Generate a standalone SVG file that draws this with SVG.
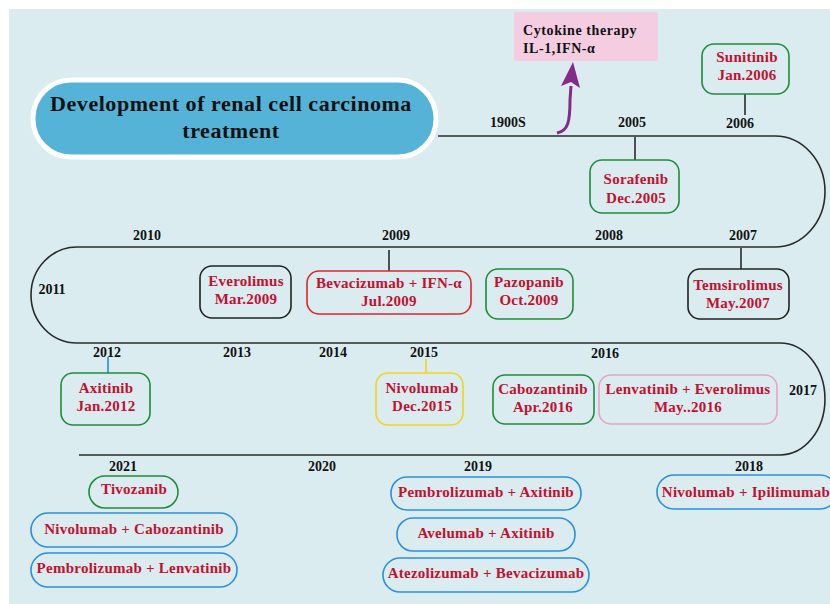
<svg xmlns="http://www.w3.org/2000/svg" width="830" height="604" viewBox="0 0 830 604">
<style>
.bg{fill:#daecf0}
.yr{font-family:"Liberation Serif",serif;font-weight:bold;font-size:14px;fill:#111;text-anchor:middle}
.t{font-family:"Liberation Serif",serif;font-weight:bold;font-size:15px;letter-spacing:0.25px;fill:#c3102e;text-anchor:middle}
.box{fill:none;stroke-width:1.6}
.g{stroke:#1f8b3b}.k{stroke:#222}.r{stroke:#e0242a}.y{stroke:#f2d31b}.p{stroke:#e8a3c3}.b{stroke:#2a8fdc}
.tl{fill:none;stroke:#2a2a2a;stroke-width:1.6}
.cy{font-family:"Liberation Serif",serif;font-weight:bold;font-size:14px;letter-spacing:0.6px;fill:#111}
.ti{font-family:"Liberation Serif",serif;font-weight:bold;font-size:22px;letter-spacing:0.55px;fill:#111;text-anchor:middle}
</style>
<rect x="0" y="0" width="830" height="604" fill="#ffffff"/>
<rect class="bg" x="9" y="9" width="821" height="595"/>
<g id="connectors">
<path class="tl" d="M438,136 H775 A50,55.5 0 0 1 775,247 H77 A46,48 0 0 0 77,343 H780 A45,56 0 0 1 780,455 H79"/>
<line x1="745" y1="94" x2="745" y2="115" class="tl"/>
<line x1="635" y1="137" x2="635" y2="160" class="tl"/>
<line x1="389" y1="250" x2="389" y2="271" class="tl"/>
<line x1="741" y1="248" x2="741" y2="269" class="tl"/>
<line x1="108" y1="357" x2="108" y2="373" stroke="#2a8fdc" stroke-width="1.6"/>
<line x1="426" y1="359" x2="426" y2="373" stroke="#f2d31b" stroke-width="1.6"/>
<path d="M557,133 C568,131 570,122 570,100 L571,86" fill="none" stroke="#862a88" stroke-width="3"/>
<polygon points="573,62 561,86 571,82 580,88" fill="#862a88"/>
</g>
<g id="title">
<rect x="33" y="80" width="403" height="77" rx="38" fill="#55b3d8" stroke="#ffffff" stroke-width="5"/>
<text class="ti" x="231" y="111">Development of renal cell carcinoma</text>
<text class="ti" x="231" y="138">treatment</text>
</g>
<g id="years">
<text class="yr" x="508" y="127">1900S</text>
<text class="yr" x="632" y="127">2005</text>
<text class="yr" x="740" y="128">2006</text>
<text class="yr" x="147" y="240">2010</text>
<text class="yr" x="396" y="240">2009</text>
<text class="yr" x="609" y="240">2008</text>
<text class="yr" x="743" y="240">2007</text>
<text class="yr" x="52" y="294">2011</text>
<text class="yr" x="107" y="357">2012</text>
<text class="yr" x="237" y="357">2013</text>
<text class="yr" x="333" y="357">2014</text>
<text class="yr" x="424" y="357">2015</text>
<text class="yr" x="605" y="358">2016</text>
<text class="yr" x="803" y="395">2017</text>
<text class="yr" x="123" y="471">2021</text>
<text class="yr" x="322" y="471">2020</text>
<text class="yr" x="478" y="471">2019</text>
<text class="yr" x="749" y="471">2018</text>
</g>
<g id="cytokine">
<rect x="514" y="12" width="144" height="49" rx="2" fill="#f5cde0"/>
<text class="cy" x="523" y="35">Cytokine therapy</text>
<text class="cy" x="523" y="53">IL-1,IFN-α</text>
</g>
<g id="sunitinib"><rect class="box g" x="702" y="44" width="87" height="50" rx="12"/><text class="t" x="747" y="62">Sunitinib</text><text class="t" x="747" y="80">Jan.2006</text></g>
<g id="sorafenib"><rect class="box g" x="590" y="160" width="89" height="53" rx="12"/><text class="t" x="636" y="184">Sorafenib</text><text class="t" x="636" y="203">Dec.2005</text></g>
<g id="everolimus"><rect class="box k" x="200" y="266" width="91" height="52" rx="12"/><text class="t" x="246" y="286">Everolimus</text><text class="t" x="246" y="304">Mar.2009</text></g>
<g id="bevacizumab"><rect class="box r" x="307" y="271" width="164" height="43" rx="12"/><text class="t" x="389" y="288">Bevacizumab + IFN-α</text><text class="t" x="389" y="306">Jul.2009</text></g>
<g id="pazopanib"><rect class="box g" x="486" y="269" width="87" height="50" rx="12"/><text class="t" x="529" y="287">Pazopanib</text><text class="t" x="529" y="305">Oct.2009</text></g>
<g id="temsirolimus"><rect class="box k" x="688" y="269" width="101" height="50" rx="12"/><text class="t" x="738" y="290">Temsirolimus</text><text class="t" x="738" y="308">May.2007</text></g>
<g id="axitinib"><rect class="box g" x="61" y="373" width="89" height="52" rx="12"/><text class="t" x="106" y="393">Axitinib</text><text class="t" x="106" y="411">Jan.2012</text></g>
<g id="nivolumab2015"><rect class="box y" x="376" y="373" width="87" height="52" rx="12"/><text class="t" x="422" y="393">Nivolumab</text><text class="t" x="422" y="411">Dec.2015</text></g>
<g id="cabozantinib"><rect class="box g" x="493" y="375" width="101" height="49" rx="12"/><text class="t" x="543" y="394">Cabozantinib</text><text class="t" x="543" y="412">Apr.2016</text></g>
<g id="lenvatinib"><rect class="box p" x="599" y="375" width="178" height="49" rx="12"/><text class="t" x="688" y="394">Lenvatinib + Everolimus</text><text class="t" x="688" y="412">May..2016</text></g>
<g id="tivozanib"><rect class="box g" x="89" y="476" width="89" height="32" rx="16"/><text class="t" x="134" y="494">Tivozanib</text></g>
<g id="nivo-cabo"><rect class="box b" x="31" y="513" width="206" height="34" rx="17"/><text class="t" x="134" y="534">Nivolumab + Cabozantinib</text></g>
<g id="pembro-lenva"><rect class="box b" x="31" y="553" width="206" height="34" rx="17"/><text class="t" x="134" y="573">Pembrolizumab + Lenvatinib</text></g>
<g id="pembro-axi"><rect class="box b" x="391" y="477" width="190" height="33" rx="16"/><text class="t" x="486" y="497">Pembrolizumab + Axitinib</text></g>
<g id="avelumab-axi"><rect class="box b" x="397" y="518" width="178" height="33" rx="16"/><text class="t" x="486" y="538">Avelumab + Axitinib</text></g>
<g id="atezo-beva"><rect class="box b" x="383" y="558" width="206" height="34" rx="17"/><text class="t" x="486" y="578">Atezolizumab + Bevacizumab</text></g>
<g id="nivo-ipi"><rect class="box b" x="657" y="475" width="180" height="34" rx="17"/><text class="t" x="746" y="497">Nivolumab + Ipilimumab</text></g>
</svg>
